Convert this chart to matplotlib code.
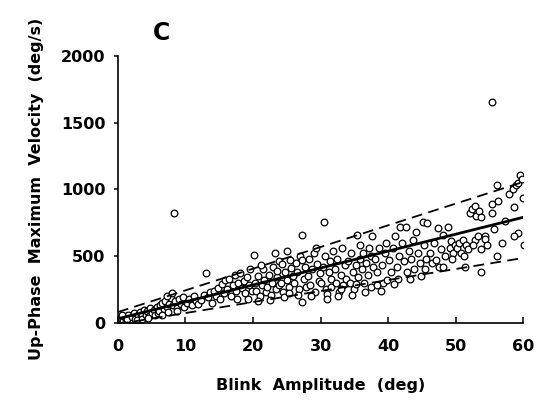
import matplotlib
matplotlib.use("Agg")
import matplotlib.pyplot as plt

# ---- data ----
amp = [
    0.3, 0.5, 0.8, 1.0, 1.2, 1.5, 1.7, 1.9, 0.6, 1.3,
    2.1, 2.4, 2.6, 2.9, 3.2, 3.4, 3.6, 3.8, 2.8, 3.5,
    4.1, 4.3, 4.6, 4.8, 5.0, 5.3, 5.5, 5.8, 5.9, 4.5,
    6.1, 6.3, 6.5, 6.8, 7.0, 7.2, 7.4, 7.6, 7.9, 6.6, 7.3,
    8.0, 8.3, 8.2, 8.5, 8.8, 9.0, 9.3, 9.6, 9.8, 8.7,
    10.2, 10.5, 10.9, 11.2, 11.5, 11.8,
    12.3, 12.7, 13.0, 13.3, 13.6, 13.9,
    14.2, 14.5, 14.8, 15.1, 15.4, 15.7, 15.9,
    16.2, 16.4, 16.7, 17.0, 17.3, 17.5, 17.8, 17.6,
    18.1, 18.3, 18.6, 18.8, 19.1, 19.4, 19.6, 19.9, 19.2,
    20.1, 20.3, 20.5, 20.8, 21.0, 21.3, 21.5, 21.7, 21.9, 20.7, 21.2,
    22.1, 22.3, 22.6, 22.8, 23.0, 23.2, 23.4, 23.6, 23.8, 22.5, 23.5, 23.9,
    24.1, 24.3, 24.5, 24.8, 25.1, 25.0, 25.3, 25.5, 25.7, 25.9, 24.6, 25.4,
    26.1, 26.3, 26.5, 26.8, 27.0, 27.3, 27.3, 27.5, 27.7, 27.9, 26.6, 27.2,
    28.1, 28.3, 28.5, 28.8, 29.0, 29.2, 29.5, 29.7, 29.9, 28.6, 29.3,
    30.5, 30.1, 30.3, 30.6, 30.8, 31.0, 31.2, 31.4, 31.6, 31.8, 30.9, 31.5,
    32.1, 32.3, 32.5, 32.8, 33.0, 33.2, 33.4, 33.6, 33.8, 32.6, 33.1,
    34.1, 34.3, 34.5, 34.8, 35.0, 35.2, 35.4, 35.6, 35.8, 34.6, 35.3, 35.9,
    36.1, 36.3, 36.5, 36.8, 37.0, 37.2, 37.6, 37.4, 37.8, 36.6, 37.5,
    38.1, 38.3, 38.6, 38.9, 39.1, 39.3, 39.5, 39.9, 39.7, 38.4,
    40.2, 40.5, 40.8, 41.0, 41.3, 41.6, 41.8, 41.5, 40.9,
    42.1, 42.4, 42.6, 42.8, 43.1, 43.4, 43.7, 43.9, 43.3,
    44.2, 44.4, 44.7, 45.1, 45.3, 45.6, 45.8, 45.5, 44.9,
    46.2, 46.5, 46.8, 47.1, 47.4, 47.6, 47.9, 48.1, 48.1,
    48.4, 48.9, 49.1, 49.3, 49.6, 49.9, 49.4,
    50.2, 50.5, 50.8, 51.1, 51.4, 51.6, 51.9, 51.3,
    52.2, 52.5, 52.9, 53.0, 53.4, 53.8, 52.9, 53.7, 53.7, 52.6, 53.3,
    54.4, 54.4, 54.6, 55.4, 55.4, 55.4, 55.7,
    56.2, 56.3, 56.9, 56.2, 57.9, 57.3,
    58.5, 58.9, 59.3, 59.6, 60.0, 58.6, 60.1, 59.3, 58.6, 59.8,
]
vel = [
    20, 35, 15, 40, 10, 55, 30, 20, 60, 25,
    45, 70, 30, 55, 80, 40, 60, 95, 20, 25,
    60, 85, 50, 110, 75, 95, 55, 120, 70, 35,
    90, 130, 150, 100, 165, 120, 80, 140, 185, 60, 200,
    221, 820, 130, 160, 110, 175, 140, 195, 120, 90,
    150, 180, 130, 200, 160, 140,
    170, 210, 372, 190, 230, 150,
    240, 200, 260, 180, 290, 220, 320,
    250, 330, 200, 280, 360, 240, 300, 180,
    375, 260, 310, 220, 340, 280, 400, 240, 180,
    506, 300, 240, 350, 200, 280, 400, 320, 230, 160, 430,
    270, 360, 210, 300, 420, 526, 250, 340, 460, 170, 390, 280,
    300, 440, 230, 380, 538, 320, 270, 470, 410, 350, 190, 220,
    300, 450, 380, 250, 500, 657, 158, 330, 420, 270, 210, 470,
    350, 480, 280, 400, 520, 230, 440, 310, 370, 200, 560,
    757, 300, 420, 500, 250, 217, 380, 460, 330, 540, 180, 270,
    400, 300, 480, 230, 360, 560, 280, 430, 330, 200, 250,
    460, 300, 520, 380, 250, 430, 657, 340, 480, 210, 290, 580,
    400, 520, 300, 450, 360, 560, 649, 270, 420, 230, 500,
    480, 380, 560, 241, 430, 300, 520, 317, 600, 280,
    470, 380, 560, 650, 420, 500, 720, 330, 290,
    600, 460, 720, 380, 540, 480, 620, 400, 330,
    682, 520, 450, 757, 580, 480, 745, 400, 350,
    520, 450, 600, 470, 707, 420, 550, 417, 657,
    500, 720, 560, 610, 520, 580, 480,
    560, 600, 520, 620, 417, 580, 550, 500,
    820, 850, 875, 800, 840, 790, 619, 550, 380, 580, 650,
    650, 630, 581, 890, 820, 1658, 700,
    1034, 915, 594, 498, 966, 760,
    1000, 1030, 1050, 1109, 938, 866, 581, 669, 649, 1080,
]

line_x = [0, 60]
fit_y = [30, 790]
upper_y = [80, 1055]
lower_y = [-10, 485]

x_ticks = [0, 10, 20, 30, 40, 50, 60]
y_ticks = [0, 500, 1000, 1500, 2000]

# ---- figure ----
plt.rcParams['font.family'] = ['DejaVu Sans']
fig = plt.figure(figsize=(5.36, 4.08), dpi=100)
ax = fig.add_axes([0.220, 0.209, 0.756, 0.654])

ax.plot(amp, vel, linestyle='none', marker='o', markersize=4.8,
        markerfacecolor='white', markeredgecolor='black', markeredgewidth=0.9,
        zorder=2)
ax.plot(line_x, fit_y, color='black', linewidth=2.0, zorder=3)
ax.plot(line_x, upper_y, color='black', linewidth=1.3, dashes=(6, 3.5), zorder=3)
ax.plot(line_x, lower_y, color='black', linewidth=1.3, dashes=(6, 3.5), zorder=3)

ax.set_xlim(0, 60)
ax.set_ylim(0, 2000)
ax.set_xticks(x_ticks)
ax.set_yticks(y_ticks)
ax.set_xticklabels([str(t) for t in x_ticks], fontsize=11.5, fontweight='bold')
ax.set_yticklabels([str(t) for t in y_ticks], fontsize=11.5, fontweight='bold')
ax.tick_params(axis='x', direction='in', length=4, width=1.1, pad=12)
ax.tick_params(axis='y', direction='out', length=3, width=1.1, pad=6)

for s in ['top', 'right']:
    ax.spines[s].set_visible(False)
for s in ['left', 'bottom']:
    ax.spines[s].set_linewidth(1.2)

ax.set_xlabel('Blink  Amplitude  (deg)', fontsize=11.5, fontweight='bold', labelpad=17)
ax.set_ylabel('Up-Phase  Maximum  Velocity  (deg/s)', fontsize=11.5, fontweight='bold', labelpad=12)

fig.text(0.302, 0.918, 'C', fontsize=17, fontweight='bold', ha='center', va='center')

fig.savefig('out.png', dpi=100)
